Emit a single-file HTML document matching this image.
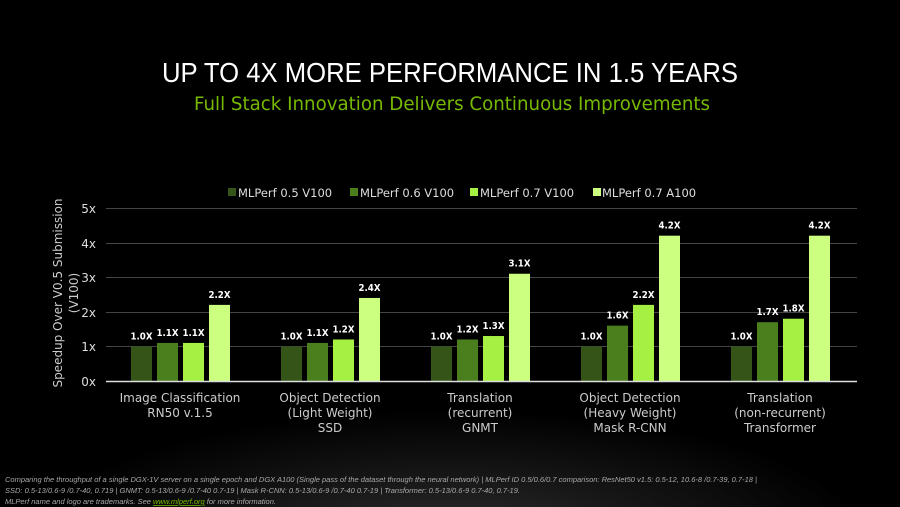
<!DOCTYPE html>
<html><head><meta charset="utf-8"><style>
html,body{margin:0;padding:0;background:#000}
#c{position:relative;width:900px;height:507px;overflow:hidden;background:radial-gradient(ellipse 420px 130px at 450px 540px,#2e2e2e 0%,#141414 55%,#000 100%);font-family:"DejaVu Sans","Liberation Sans",sans-serif}
svg{position:absolute;left:0;top:0}
</style></head><body><div id="c">
<svg width="900" height="507" xmlns="http://www.w3.org/2000/svg" font-family="DejaVu Sans, Liberation Sans, sans-serif">
<text x="162" y="82" textLength="576" lengthAdjust="spacingAndGlyphs" fill="#fff" font-size="28" font-family="Liberation Sans, sans-serif">UP TO 4X MORE PERFORMANCE IN 1.5 YEARS</text>
<text x="194" y="110" textLength="516" lengthAdjust="spacingAndGlyphs" fill="#76b900" font-size="19">Full Stack Innovation Delivers Continuous Improvements</text>
<g font-size="11.5" fill="#ddd">
<rect x="228" y="188" width="8" height="8" fill="#345517"/><text x="238" y="197">MLPerf 0.5 V100</text>
<rect x="350" y="188" width="8" height="8" fill="#4b7f1e"/><text x="360" y="197">MLPerf 0.6 V100</text>
<rect x="470" y="188" width="8" height="8" fill="#a6f044"/><text x="480" y="197">MLPerf 0.7 V100</text>
<rect x="593" y="188" width="8" height="8" fill="#ccff80"/><text x="602" y="197">MLPerf 0.7 A100</text>
</g>
<g stroke="#444" stroke-width="1">
<line x1="106" y1="208.5" x2="857" y2="208.5"/><line x1="106" y1="243.5" x2="857" y2="243.5"/><line x1="106" y1="277.5" x2="857" y2="277.5"/><line x1="106" y1="312.5" x2="857" y2="312.5"/><line x1="106" y1="346.5" x2="857" y2="346.5"/>
</g>
<g font-size="12" fill="#ddd" text-anchor="end">
<text x="96" y="213">5x</text><text x="96" y="248">4x</text><text x="96" y="282">3x</text><text x="96" y="317">2x</text><text x="96" y="351">1x</text><text x="96" y="386">0x</text>
</g>
<text transform="translate(62,293) rotate(-90)" text-anchor="middle" fill="#ccc" font-size="12">Speedup Over V0.5 Submission</text>
<text transform="translate(78,293) rotate(-90)" text-anchor="middle" fill="#ccc" font-size="12">(V100)</text>
<g id="bars"></g>
<line x1="106" y1="381.5" x2="857" y2="381.5" stroke="#ddd" stroke-width="1.5"/>
<g font-size="10" fill="#fff" font-weight="bold" text-anchor="middle" id="lbl"></g>
<g font-size="12" fill="#ccc" text-anchor="middle">
<text x="180" y="402">Image Classification</text><text x="180" y="417">RN50 v.1.5</text>
<text x="330" y="402">Object Detection</text><text x="330" y="417">(Light Weight)</text><text x="330" y="432">SSD</text>
<text x="480" y="402">Translation</text><text x="480" y="417">(recurrent)</text><text x="480" y="432">GNMT</text>
<text x="630" y="402">Object Detection</text><text x="630" y="417">(Heavy Weight)</text><text x="630" y="432">Mask R-CNN</text>
<text x="780" y="402">Translation</text><text x="780" y="417">(non-recurrent)</text><text x="780" y="432">Transformer</text>
</g>
<g font-size="7.5" fill="#aaa" font-style="italic" font-family="Liberation Sans, sans-serif">
<text x="5" y="482">Comparing the throughput of a single DGX-1V server on a single epoch and DGX A100 (Single pass of the dataset through the neural network) | MLPerf ID 0.5/0.6/0.7 comparison: ResNet50 v1.5: 0.5-12, 10.6-8 /0.7-39, 0.7-18  |</text>
<text x="5" y="493">SSD: 0.5-13/0.6-9 /0.7-40, 0.719 |  GNMT: 0.5-13/0.6-9 /0.7-40 0.7-19  |  Mask R-CNN: 0.5-13/0.6-9 /0.7-40 0.7-19 | Transformer: 0.5-13/0.6-9 0.7-40, 0.7-19.</text>
<text x="5" y="504">MLPerf name and logo are trademarks. See <tspan fill="#76b900" text-decoration="underline">www.mlperf.org</tspan> for more information.</text>
</g>
</svg>
<script>
var d=[[1,1.1,1.1,2.2],[1,1.1,1.2,2.4],[1,1.2,1.3,3.1],[1,1.6,2.2,4.2],[1,1.7,1.8,4.2]];
var col=["#345517","#4b7f1e","#a6f044","#ccff80"],u=34.6,b=381,ns="http://www.w3.org/2000/svg";
var g=document.getElementById("bars"),l=document.getElementById("lbl");
d.forEach(function(r,i){r.forEach(function(v,j){var x=131+i*150+j*26,h=v*u;
var e=document.createElementNS(ns,"rect");e.setAttribute("x",x);e.setAttribute("y",b-h);e.setAttribute("width",21);e.setAttribute("height",h);e.setAttribute("fill",col[j]);g.appendChild(e);
var t=document.createElementNS(ns,"text");t.setAttribute("x",x+10.5);t.setAttribute("y",b-h-7);t.setAttribute("textLength",22);t.setAttribute("lengthAdjust","spacingAndGlyphs");t.textContent=v.toFixed(1)+"X";l.appendChild(t);});});
</script>
</div></body></html>
